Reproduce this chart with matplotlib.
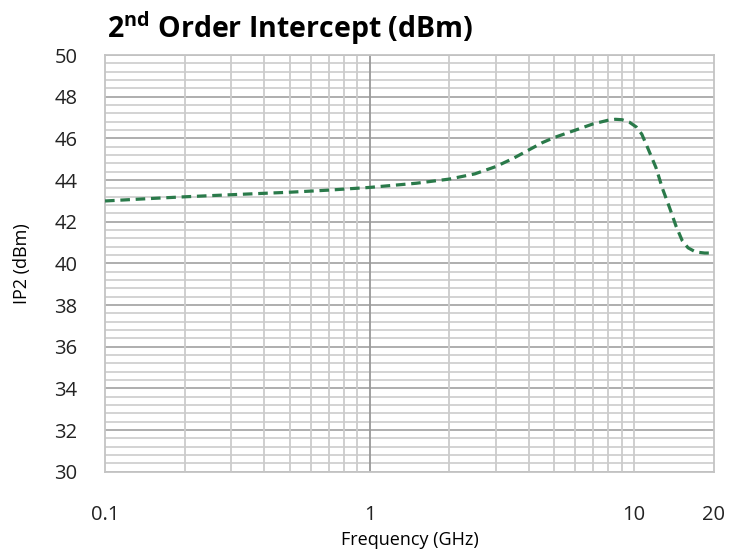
import numpy as np
import matplotlib.pyplot as plt
from matplotlib.ticker import FixedLocator, NullFormatter

plt.rcParams['font.family'] = ['Open Sans', 'DejaVu Sans']
plt.rcParams['mathtext.fontset'] = 'custom'
plt.rcParams['mathtext.bf'] = 'Open Sans:bold'
plt.rcParams['mathtext.rm'] = 'Open Sans'

# IP2 vs frequency
freq = [0.1, 0.15, 0.2, 0.3, 0.5, 0.7, 1.0, 1.5, 2.0, 2.5, 3.0, 3.5, 4.0, 4.5,
        5.0, 6.0, 7.0, 8.0, 8.5, 9.0, 9.6, 10.2, 10.7, 11.3, 12.1, 12.8, 13.6,
        14.4, 15.2, 16.0, 17.1, 18.5, 20.0]
ip2 = [43.0, 43.12, 43.2, 43.3, 43.42, 43.52, 43.65, 43.85, 44.05, 44.3, 44.65,
       45.05, 45.45, 45.8, 46.05, 46.4, 46.7, 46.88, 46.92, 46.9, 46.78, 46.55,
       46.2, 45.5, 44.6, 43.6, 42.7, 41.8, 41.1, 40.75, 40.55, 40.5, 40.5]

xticks = [0.1, 1, 10, 20]
xlabels = ['0.1', '1', '10', '20']
yticks = np.arange(30, 51, 2)

fig = plt.figure(figsize=(7.45, 5.57), dpi=100)
ax = fig.add_axes([0.141, 0.153, 0.817, 0.748])

ax.set_xscale('log')
ax.set_xlim(0.1, 20)
ax.set_ylim(30, 50)

# grid
for v in np.arange(30, 50.01, 0.4):
    major = abs(v / 2 - round(v / 2)) < 1e-6
    ax.axhline(v, color='#a8a8a8' if major else '#d0d0d0', lw=1.3, zorder=1)
vgrid = [0.2, 0.3, 0.4, 0.5, 0.6, 0.7, 0.8, 0.9, 2, 3, 4, 5, 6, 7, 8, 9, 10]
for v in vgrid:
    ax.axvline(v, color='#cccccc', lw=1.3, zorder=1)
ax.axvline(1, color='#999999', lw=1.3, zorder=1)

ax.plot(freq, ip2, color='#2a7a4a', lw=2.3, ls=(0, (3, 1.8)), zorder=3)

for s in ax.spines.values():
    s.set_color('#c4c4c4')
    s.set_linewidth(1.3)

ax.xaxis.set_major_locator(FixedLocator(xticks))
ax.set_xticklabels(xlabels)
ax.xaxis.set_minor_formatter(NullFormatter())
ax.set_yticks(yticks)
ax.tick_params(which='both', length=0, labelsize=14.5, colors='#222222')
ax.tick_params(axis='x', pad=24)
ax.tick_params(axis='y', pad=20)

ax.set_xlabel('Frequency (GHz)', fontsize=13, labelpad=4)
ax.set_ylabel('IP2 (dBm)', fontsize=13, labelpad=17)

fig.text(0.143, 0.932, r'2$^{\mathbf{nd}}$ Order Intercept (dBm)',
         fontsize=20.5, fontweight='bold', ha='left', va='baseline')

fig.savefig('out.png', dpi=100)
